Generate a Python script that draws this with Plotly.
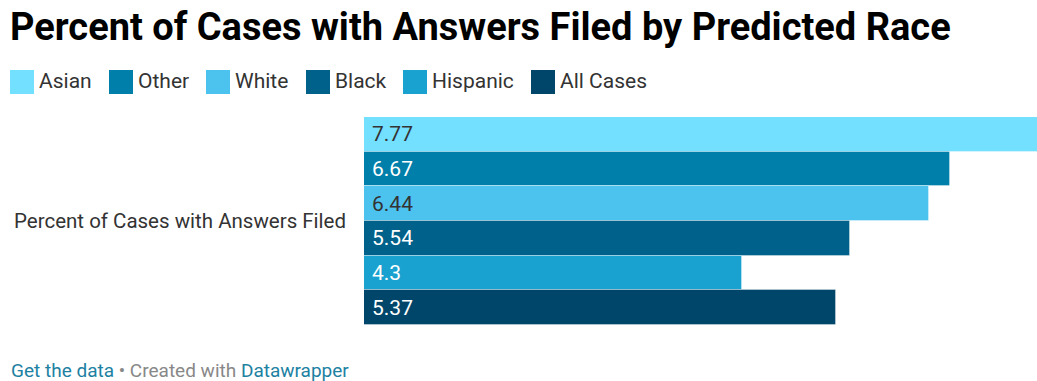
import plotly.graph_objects as go

# Data
races = ["Asian", "Other", "White", "Black", "Hispanic", "All Cases"]
answer_rates = [7.77, 6.67, 6.44, 5.54, 4.3, 5.37]
group_label = "Percent of Cases with Answers Filed"

# Styling
bar_colors = ["#74E0FF", "#007FAA", "#4CC2EE", "#00628A", "#19A2CF", "#00466B"]
label_colors = ["#333333", "#FFFFFF", "#333333", "#FFFFFF", "#FFFFFF", "#FFFFFF"]
legend_x_px = [10, 109, 206, 306, 403, 531]

W, H = 1037, 381


def px_x(x):
    return x / W


def px_y(y):
    return 1 - y / H


fig = go.Figure()
fig.add_trace(go.Bar(
    x=answer_rates,
    y=races,
    orientation="h",
    marker=dict(color=bar_colors, line=dict(color="rgba(255,255,255,0.35)", width=1)),
    showlegend=False,
    hoverinfo="skip",
))

annotations = []
# value labels inside each bar
for race, val, col in zip(races, answer_rates, label_colors):
    annotations.append(dict(
        x=0, y=race, xref="x", yref="y", text=f"{val:g}", showarrow=False,
        xanchor="left", yanchor="middle", xshift=6,
        font=dict(family="Roboto", size=21, color=col),
    ))

# group label on the left
annotations.append(dict(
    x=px_x(348), y=px_y(221), xref="paper", yref="paper", text=group_label,
    showarrow=False, xanchor="right", yanchor="middle",
    font=dict(family="Roboto", size=20.5, color="#333333"),
))

# title
annotations.append(dict(
    x=px_x(8), y=px_y(27), xref="paper", yref="paper",
    text="<b>Percent of Cases with Answers Filed by Predicted Race</b>",
    showarrow=False, xanchor="left", yanchor="middle",
    font=dict(family="Roboto", size=38, color="#000000"),
))

# footer
annotations.append(dict(
    x=px_x(9), y=px_y(370), xref="paper", yref="paper",
    text=("<span style='color:#1D81A2'>Get the data</span>"
          "<span style='color:#888888'> • Created with </span>"
          "<span style='color:#1D81A2'>Datawrapper</span>"),
    showarrow=False, xanchor="left", yanchor="middle",
    font=dict(family="Roboto", size=19, color="#888888"),
))

# legend swatches and labels
shapes = []
for race, col, lx in zip(races, bar_colors, legend_x_px):
    shapes.append(dict(
        type="rect", xref="paper", yref="paper",
        x0=px_x(lx), x1=px_x(lx + 24), y0=px_y(94), y1=px_y(70),
        fillcolor=col, line=dict(width=0),
    ))
    annotations.append(dict(
        x=px_x(lx + 27), y=px_y(81), xref="paper", yref="paper", text=race,
        showarrow=False, xanchor="left", yanchor="middle",
        font=dict(family="Roboto", size=21, color="#333333"),
    ))

fig.update_layout(
    width=W, height=H,
    margin=dict(l=0, r=0, t=0, b=0),
    paper_bgcolor="white", plot_bgcolor="white",
    bargap=0,
    xaxis=dict(domain=[px_x(364), 1], range=[0, 7.665], visible=False, fixedrange=True),
    yaxis=dict(domain=[px_y(325), px_y(117)], autorange="reversed", visible=False, fixedrange=True),
    annotations=annotations,
    shapes=shapes,
)

fig.write_html("out.html")
